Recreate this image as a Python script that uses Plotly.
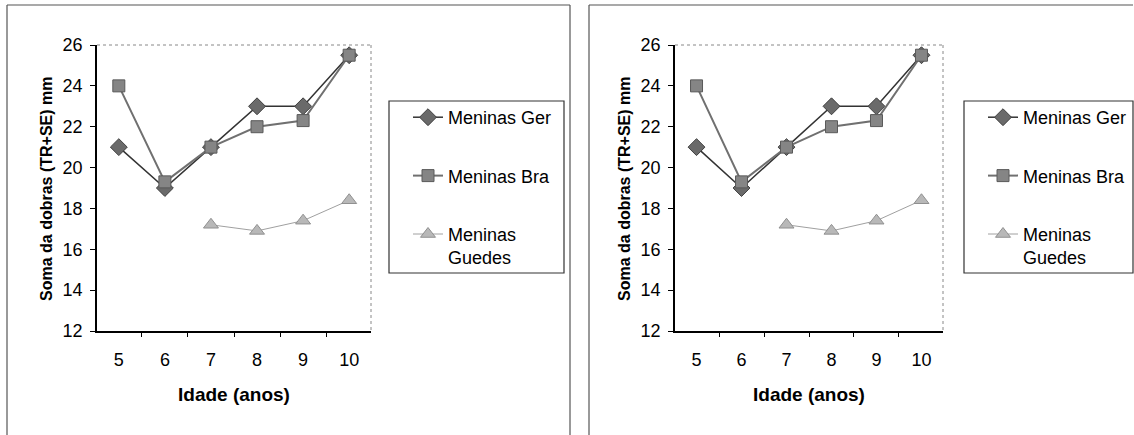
import plotly.graph_objects as go

W, H = 1134, 435

# ---- data ----
ages = ["5", "6", "7", "8", "9", "10"]
ger = [21.0, 19.0, 21.0, 23.0, 23.0, 25.5]
bra = [24.0, 19.3, 21.0, 22.0, 22.3, 25.5]
guedes_ages = ["7", "8", "9", "10"]
guedes = [17.2, 16.9, 17.4, 18.4]
series_names = ["Meninas Ger", "Meninas Bra", "Meninas<br>Guedes"]
y_tick_vals = [12, 14, 16, 18, 20, 22, 24, 26]
x_title = "Idade (anos)"
y_title = "Soma da dobras (TR+SE) mm"

FONT = "Liberation Sans, Arial, sans-serif"


def px(x):
    return x / W


def py(y):
    return 1 - y / H


panels = [
    dict(b0=7, b1=570, a0=97, a1=371, l0=389, l1=564, ytx=46),
    dict(b0=589, b1=1133, a0=675, a1=943, l0=964, l1=1133, ytx=624),
]
TOP, BOT = 45, 331
LEG_T, LEG_B = 101, 273

fig = go.Figure()
shapes = []
annotations = []
layout = {}

for i, p in enumerate(panels):
    sfx = "" if i == 0 else str(i + 1)
    xa, ya = "x" + sfx, "y" + sfx
    leg = "legend" + sfx
    fig.add_trace(go.Scatter(
        x=ages, y=ger, name=series_names[0], mode="lines+markers",
        xaxis=xa, yaxis=ya, legend=leg, legendgroup="g1",
        line=dict(color="#333333", width=1.5),
        marker=dict(symbol="diamond", size=13, color="#6a6a6a",
                    line=dict(color="#404040", width=1))))
    fig.add_trace(go.Scatter(
        x=ages, y=bra, name=series_names[1], mode="lines+markers",
        xaxis=xa, yaxis=ya, legend=leg, legendgroup="g2",
        line=dict(color="#707070", width=2),
        marker=dict(symbol="square", size=12, color="#858585",
                    line=dict(color="#5a5a5a", width=1))))
    fig.add_trace(go.Scatter(
        x=guedes_ages, y=guedes, name=series_names[2], mode="lines+markers",
        xaxis=xa, yaxis=ya, legend=leg, legendgroup="g3",
        line=dict(color="#a0a0a0", width=1),
        marker=dict(symbol="triangle-up", size=13, color="#b8b8b8",
                    line=dict(color="#909090", width=1))))

    layout["xaxis" + sfx] = dict(
        domain=[px(p["a0"]), px(p["a1"])], anchor=ya, type="category",
        categoryorder="array", categoryarray=ages,
        tickson="boundaries", ticks="outside", ticklen=4, tickcolor="#000",
        ticklabelstandoff=12, automargin=False,
        showline=True, linecolor="#000", linewidth=1.5, showgrid=False,
        zeroline=False, fixedrange=True,
        tickfont=dict(family=FONT, size=18, color="#000"))
    layout["yaxis" + sfx] = dict(
        domain=[py(BOT), py(TOP)], anchor=xa, range=[12, 26],
        tickvals=y_tick_vals, ticks="outside", ticklen=5, tickcolor="#000",
        ticklabelstandoff=4, automargin=False,
        showline=True, linecolor="#000", linewidth=1.5, showgrid=False,
        zeroline=False, fixedrange=True,
        tickfont=dict(family=FONT, size=18, color="#000"))
    layout[leg] = dict(
        x=px(p["l0"] + 19), y=py(LEG_T - 2), xanchor="left", yanchor="top",
        bgcolor="rgba(0,0,0,0)", borderwidth=0, valign="top",
        tracegroupgap=32, itemwidth=30,
        font=dict(family=FONT, size=18, color="#000"))

    # panel border (top, left, right lines only)
    shapes.append(dict(type="line", xref="paper", yref="paper",
                       x0=px(p["b0"]), x1=px(p["b1"]), y0=py(5), y1=py(5),
                       line=dict(color="#555", width=1.2)))
    shapes.append(dict(type="line", xref="paper", yref="paper",
                       x0=px(p["b0"]), x1=px(p["b0"]), y0=0, y1=py(5),
                       line=dict(color="#555", width=1.2)))
    if i == 0:
        shapes.append(dict(type="line", xref="paper", yref="paper",
                           x0=px(p["b1"]), x1=px(p["b1"]), y0=0, y1=py(5),
                           line=dict(color="#555", width=1.2)))
    # plot-area top/right border (gray)
    shapes.append(dict(type="line", xref="paper", yref="paper",
                       x0=px(p["a0"]), x1=px(p["a1"]), y0=py(TOP), y1=py(TOP),
                       line=dict(color="#888", width=1, dash="dot")))
    shapes.append(dict(type="line", xref="paper", yref="paper",
                       x0=px(p["a1"]), x1=px(p["a1"]), y0=py(TOP), y1=py(BOT),
                       line=dict(color="#888", width=1, dash="dot")))
    # legend box
    shapes.append(dict(type="rect", xref="paper", yref="paper",
                       x0=px(p["l0"]), x1=px(p["l1"]), y0=py(LEG_B), y1=py(LEG_T),
                       line=dict(color="#333", width=1.2)))
    # axis titles
    annotations.append(dict(text="<b>" + x_title + "</b>", xref="paper", yref="paper",
                            x=px((p["a0"] + p["a1"]) / 2), y=py(394),
                            showarrow=False, xanchor="center", yanchor="middle",
                            font=dict(family=FONT, size=19, color="#000")))
    annotations.append(dict(text="<b>" + y_title + "</b>", xref="paper", yref="paper",
                            x=px(p["ytx"]), y=py(189), textangle=-90,
                            showarrow=False, xanchor="center", yanchor="middle",
                            font=dict(family=FONT, size=16, color="#000")))

fig.update_layout(
    width=W, height=H, margin=dict(l=0, r=0, t=0, b=0, autoexpand=False),
    paper_bgcolor="white", plot_bgcolor="white",
    showlegend=True, shapes=shapes, annotations=annotations, **layout)

fig.write_html("out.html")
